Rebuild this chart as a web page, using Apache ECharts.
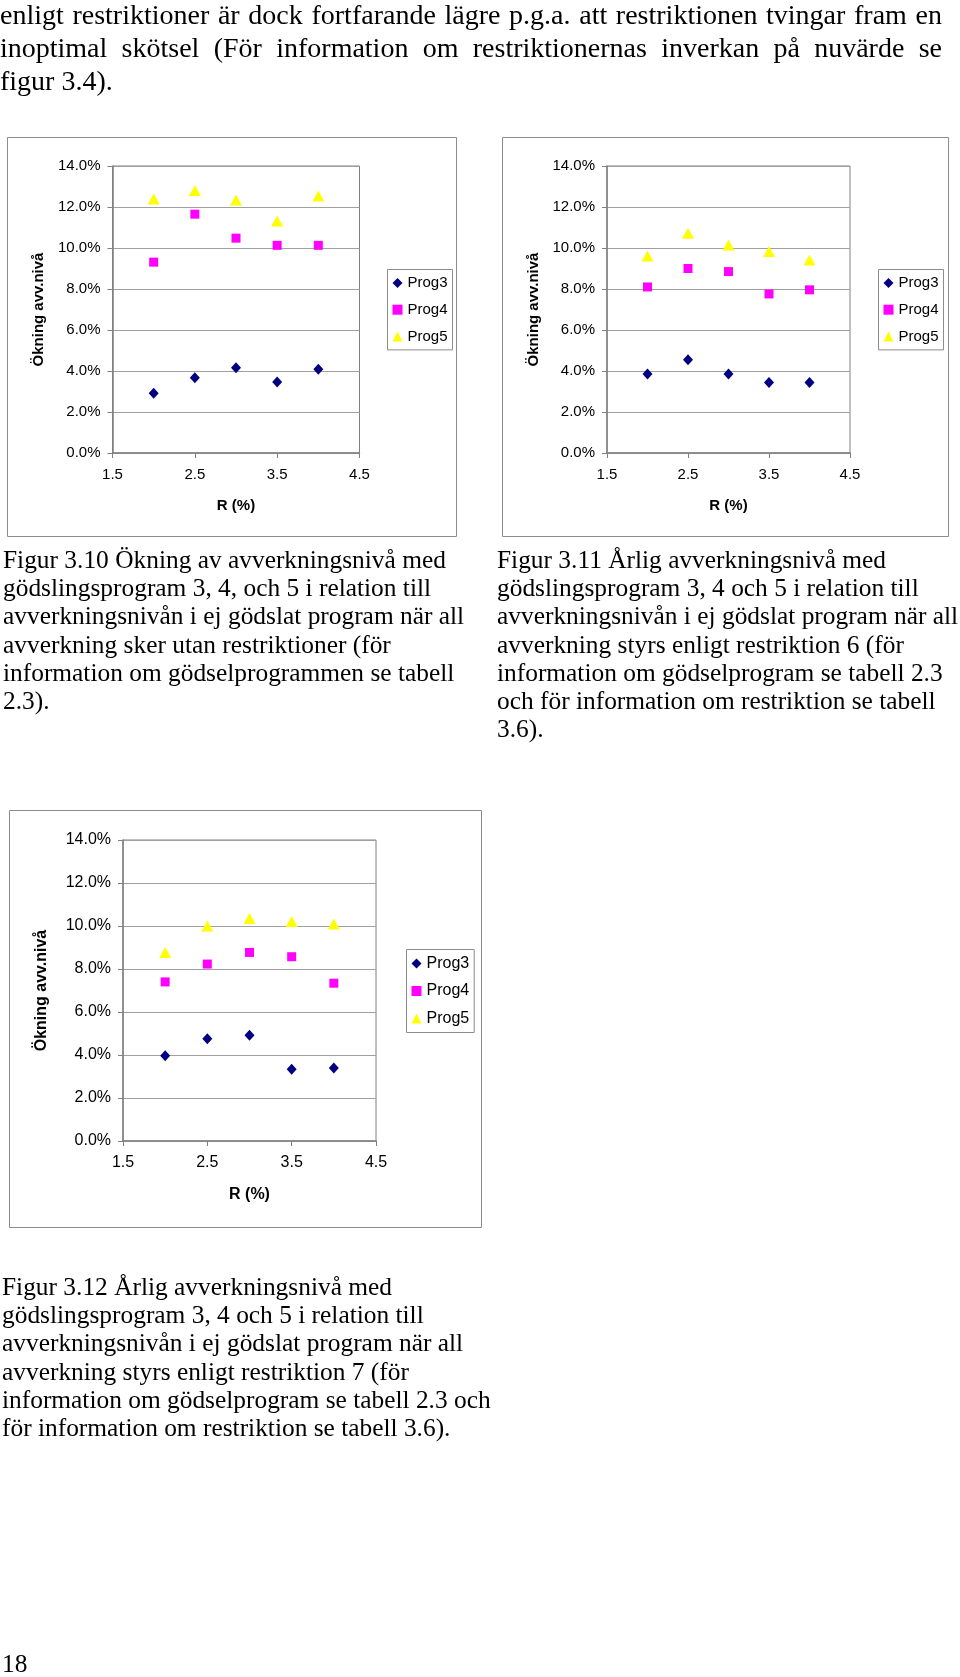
<!DOCTYPE html>
<html>
<head>
<meta charset="utf-8">
<script src="https://cdn.jsdelivr.net/npm/echarts@6/dist/echarts.min.js"></script>
<style>
html,body{margin:0;padding:0;background:#fff;}
#page{position:relative;width:960px;height:1677px;overflow:hidden;background:#fff;}
#chart{position:absolute;left:0;top:0;width:960px;height:1677px;}
.t{position:absolute;font-family:'Liberation Serif','Times New Roman',serif;color:#000;white-space:nowrap;}
.body{font-size:28px;line-height:33px;}
.cap{font-size:25.4px;line-height:28.2px;}
.just{width:942px;text-align:justify;text-align-last:justify;white-space:normal;}
</style>
</head>
<body>
<div id="page">
  <div id="chart"></div>
  <div class="t body just" style="left:0;top:-2px;">enligt restriktioner är dock fortfarande lägre p.g.a. att restriktionen tvingar fram en</div>
  <div class="t body just" style="left:0;top:31px;">inoptimal skötsel (För information om restriktionernas inverkan på nuvärde se</div>
  <div class="t body" style="left:0;top:64px;">figur 3.4).</div>

  <div class="t cap" style="left:3px;top:545px;">Figur 3.10 Ökning av avverkningsnivå med<br>gödslingsprogram 3, 4, och 5 i relation till<br>avverkningsnivån i ej gödslat program när all<br>avverkning sker utan restriktioner (för<br>information om gödselprogrammen se tabell<br>2.3).</div>
  <div class="t cap" style="left:497px;top:545px;">Figur 3.11 Årlig avverkningsnivå med<br>gödslingsprogram 3, 4 och 5 i relation till<br>avverkningsnivån i ej gödslat program när all<br>avverkning styrs enligt restriktion 6 (för<br>information om gödselprogram se tabell 2.3<br>och för information om restriktion se tabell<br>3.6).</div>
  <div class="t cap" style="left:2px;top:1272px;">Figur 3.12 Årlig avverkningsnivå med<br>gödslingsprogram 3, 4 och 5 i relation till<br>avverkningsnivån i ej gödslat program när all<br>avverkning styrs enligt restriktion 7 (för<br>information om gödselprogram se tabell 2.3 och<br>för information om restriktion se tabell 3.6).</div>
  <div class="t cap" style="left:2px;top:1649px;">18</div>
</div>
<script>
// ---------- data ----------
const rValues = [2.0, 2.5, 3.0, 3.5, 4.0];          // R (%)
const xTickValues = [1.5, 2.5, 3.5, 4.5];
const seriesNames = ['Prog3', 'Prog4', 'Prog5'];
const xAxisTitle = 'R (%)';
const yAxisTitle = 'Ökning avv.nivå';

// Figur 3.10 (utan restriktioner)
const fig310Prog3 = [2.92, 3.67, 4.16, 3.46, 4.08];
const fig310Prog4 = [9.31, 11.65, 10.48, 10.13, 10.13];
const fig310Prog5 = [12.39, 12.81, 12.34, 11.32, 12.54];
// Figur 3.11 (restriktion 6)
const fig311Prog3 = [3.85, 4.55, 3.85, 3.44, 3.44];
const fig311Prog4 = [8.10, 9.00, 8.85, 7.76, 7.96];
const fig311Prog5 = [9.61, 10.72, 10.15, 9.83, 9.42];
// Figur 3.12 (restriktion 7)
const fig312Prog3 = [3.96, 4.76, 4.92, 3.34, 3.40];
const fig312Prog4 = [7.40, 8.23, 8.77, 8.57, 7.34];
const fig312Prog5 = [8.77, 10.00, 10.35, 10.21, 10.09];

// ---------- styling / layout ----------
const colors = ['#000080', '#FF00FF', '#FFFF00'];
const symbols = ['diamond', 'rect', 'triangle'];
const symbolSizes = [[10, 11], [9, 9], [12, 11]];
const SANS = "'Liberation Sans', Arial, sans-serif";

const layouts = [
  { grid: {left: 112.5, top: 166, width: 247, height: 287}, box: [7.5, 137.5, 449, 399],
    legend: {left: 387.5, top: 269.5, pad: [6, 5, 6, 5]}, fs: 15, yGap: 66, xGap: 45, series: [fig310Prog3, fig310Prog4, fig310Prog5] },
  { grid: {left: 607, top: 166, width: 243, height: 287}, box: [502.5, 137.5, 446, 399],
    legend: {left: 878.5, top: 269.5, pad: [6, 5, 6, 5]}, fs: 15, yGap: 66, xGap: 45, series: [fig311Prog3, fig311Prog4, fig311Prog5] },
  { grid: {left: 123, top: 840, width: 253, height: 301}, box: [9.5, 810.5, 472, 417],
    legend: {left: 406.5, top: 949.5, pad: [6, 5, 6, 5]}, fs: 16, yGap: 73, xGap: 46, series: [fig312Prog3, fig312Prog4, fig312Prog5] }
];

const option = {
  animation: false,
  grid: [], xAxis: [], yAxis: [], series: [], legend: [], graphic: []
};

layouts.forEach((L, i) => {
  option.grid.push(Object.assign({show: true, borderColor: '#808080', borderWidth: 1, backgroundColor: 'transparent'}, L.grid));
  option.graphic.push({
    type: 'rect', silent: true, z: -1,
    shape: {x: L.box[0], y: L.box[1], width: L.box[2], height: L.box[3]},
    style: {fill: 'none', stroke: '#8c8c8c', lineWidth: 1}
  });
  option.xAxis.push({
    type: 'value', gridIndex: i, min: 1.5, max: 4.5,
    name: xAxisTitle, nameLocation: 'middle', nameGap: L.xGap,
    nameTextStyle: {fontFamily: SANS, fontSize: L.fs, fontWeight: 'bold', color: '#000'},
    axisLine: {show: true, onZero: false, lineStyle: {color: '#808080', width: 1.5}},
    axisTick: {show: true, inside: false, length: 5, customValues: xTickValues, lineStyle: {color: '#808080'}},
    axisLabel: {customValues: xTickValues, margin: 14, fontFamily: SANS, fontSize: L.fs, color: '#000',
      formatter: v => v.toFixed(1)},
    splitLine: {show: false}
  });
  option.yAxis.push({
    type: 'value', gridIndex: i, min: 0, max: 14, interval: 2,
    name: yAxisTitle, nameLocation: 'middle', nameGap: L.yGap, nameRotate: 90,
    nameTextStyle: {fontFamily: SANS, fontSize: L.fs, fontWeight: 'bold', color: '#000'},
    axisLine: {show: true, lineStyle: {color: '#808080', width: 1.5}},
    axisTick: {show: true, inside: false, length: 5, lineStyle: {color: '#808080'}},
    axisLabel: {margin: 12, fontFamily: SANS, fontSize: L.fs, color: '#000',
      formatter: v => v.toFixed(1) + '%'},
    splitLine: {show: true, lineStyle: {color: '#a0a0a0', width: 1}}
  });
  L.series.forEach((vals, s) => {
    option.series.push({
      type: 'scatter', name: seriesNames[s], xAxisIndex: i, yAxisIndex: i,
      symbol: symbols[s], symbolSize: symbolSizes[s],
      itemStyle: {color: colors[s], opacity: 1},
      emphasis: {disabled: true},
      data: rValues.map((r, k) => [r, vals[k]])
    });
  });
  option.legend.push({
    orient: 'vertical', left: L.legend.left, top: L.legend.top,
    padding: L.legend.pad, itemGap: L.fs === 16 ? 11.5 : 11.7,
    itemWidth: 10, itemHeight: 10,
    borderColor: '#8c8c8c', borderWidth: 1, backgroundColor: '#fff',
    selectedMode: false,
    textStyle: {fontFamily: SANS, fontSize: L.fs, color: '#000', padding: [0, 0, 0, 0]},
    data: seriesNames.map((n, s) => ({name: n, icon: symbols[s], itemStyle: {color: colors[s]}}))
  });
});

const chart = echarts.init(document.getElementById('chart'), null, {renderer: 'canvas', width: 960, height: 1677});
chart.setOption(option);
</script>
</body>
</html>
